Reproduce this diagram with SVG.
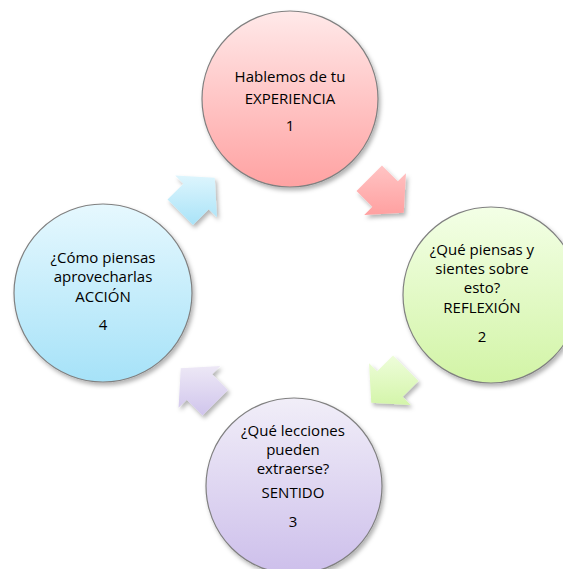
<svg xmlns="http://www.w3.org/2000/svg" width="563" height="569" viewBox="0 0 563 569">
<style>
.c{stroke:#808080;stroke-width:1.2}
.t{font-family:"Open Sans","Liberation Sans",sans-serif;font-size:15px;fill:#000;text-anchor:middle}
</style>
<defs>
<filter id="sh" x="-20%" y="-20%" width="150%" height="150%"><feDropShadow dx="2" dy="3" stdDeviation="2" flood-color="#000" flood-opacity="0.3"/></filter>
<linearGradient id="gP" x1="0" y1="0" x2="0" y2="1"><stop offset="0" stop-color="#FFE9E9"/><stop offset="1" stop-color="#FFA2A2"/></linearGradient>
<linearGradient id="gG" x1="0" y1="0" x2="0" y2="1"><stop offset="0" stop-color="#F3FFE6"/><stop offset="1" stop-color="#D2F4A6"/></linearGradient>
<linearGradient id="gV" x1="0" y1="0" x2="0" y2="1"><stop offset="0" stop-color="#F1EEF8"/><stop offset="1" stop-color="#CDBFEB"/></linearGradient>
<linearGradient id="gB" x1="0" y1="0" x2="0" y2="1"><stop offset="0" stop-color="#E6F8FE"/><stop offset="1" stop-color="#A6E2F8"/></linearGradient>
<linearGradient id="aP" x1="0" y1="0" x2="0" y2="1"><stop offset="0" stop-color="#FFC4C4"/><stop offset="1" stop-color="#FFA0A0"/></linearGradient>
<linearGradient id="aG" x1="0" y1="0" x2="0" y2="1"><stop offset="0" stop-color="#EEFDDA"/><stop offset="1" stop-color="#D4F5AA"/></linearGradient>
<linearGradient id="aV" x1="0" y1="0" x2="0" y2="1"><stop offset="0" stop-color="#EDE8F6"/><stop offset="1" stop-color="#D0C5EC"/></linearGradient>
<linearGradient id="aB" x1="0" y1="0" x2="0" y2="1"><stop offset="0" stop-color="#DDF5FD"/><stop offset="1" stop-color="#A9E3F8"/></linearGradient>
</defs>
<g id="connectors" filter="url(#sh)">
<polygon fill="url(#aP)" points="381.98,165.52 397.82,181.36 405.95,173.23 403.75,212.75 364.23,214.95 372.36,206.82 356.52,190.98"/>
<polygon fill="url(#aG)" points="418.48,380.98 402.64,396.82 410.77,404.95 371.25,402.75 369.05,363.23 377.18,371.36 393.02,355.52"/>
<polygon fill="url(#aV)" points="202.52,415.48 186.68,399.64 178.55,407.77 180.75,368.25 220.27,366.05 212.14,374.18 227.98,390.02"/>
<polygon fill="url(#aB)" points="167.52,199.52 183.36,183.68 175.23,175.55 214.75,177.75 216.95,217.27 208.82,209.14 192.98,224.98"/>
</g>
<g id="node1">
<circle class="c" cx="290" cy="99" r="88" fill="url(#gP)" filter="url(#sh)"/>
<text class="t" x="290" y="82">Hablemos de tu</text>
<text class="t" x="290" y="104">EXPERIENCIA</text>
<text class="t" x="290" y="131">1</text>
</g>
<g id="node2">
<circle class="c" cx="491" cy="295" r="88" fill="url(#gG)" filter="url(#sh)"/>
<text class="t" x="482" y="255">¿Qué piensas y</text>
<text class="t" x="482" y="274">sientes sobre</text>
<text class="t" x="482" y="293">esto?</text>
<text class="t" x="482" y="313">REFLEXIÓN</text>
<text class="t" x="482" y="342">2</text>
</g>
<g id="node3">
<circle class="c" cx="294" cy="486" r="88" fill="url(#gV)" filter="url(#sh)"/>
<text class="t" x="293" y="436">¿Qué lecciones</text>
<text class="t" x="293" y="455">pueden</text>
<text class="t" x="293" y="474">extraerse?</text>
<text class="t" x="293" y="498">SENTIDO</text>
<text class="t" x="293" y="527">3</text>
</g>
<g id="node4">
<circle class="c" cx="103" cy="293" r="89" fill="url(#gB)" filter="url(#sh)"/>
<text class="t" x="103" y="263">¿Cómo piensas</text>
<text class="t" x="103" y="282">aprovecharlas</text>
<text class="t" x="103" y="302">ACCIÓN</text>
<text class="t" x="103" y="330">4</text>
</g>
</svg>
